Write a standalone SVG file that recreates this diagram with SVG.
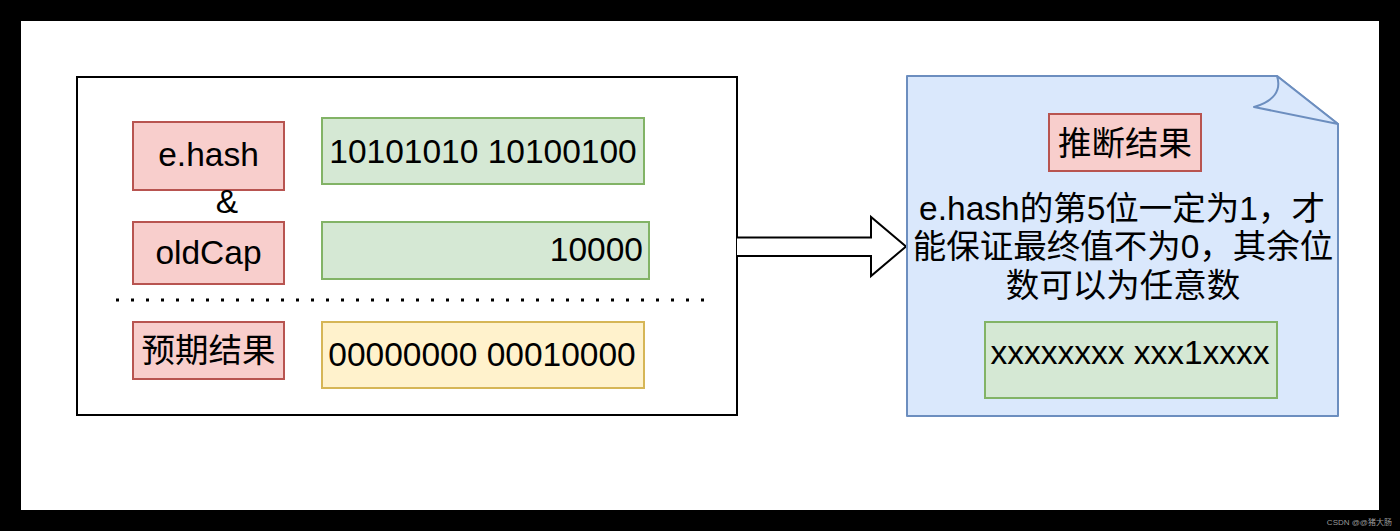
<svg xmlns="http://www.w3.org/2000/svg" width="1400" height="531" viewBox="0 0 1400 531">
  <style>
    text { font-family: "Liberation Sans", "Noto Sans CJK SC", sans-serif; font-size: 33.5px; fill: #000; }
    .pink { fill: #f8cecc; stroke: #b85450; stroke-width: 2; }
    .green { fill: #d5e8d4; stroke: #82b366; stroke-width: 2; }
    .yellow { fill: #fff2cc; stroke: #d6b656; stroke-width: 2; }
    .blue { fill: #dae8fc; stroke: #6c8ebf; stroke-width: 2; stroke-linejoin: round; }
    .c { text-anchor: middle; }
    .r { text-anchor: end; }
  </style>
  <rect x="0" y="0" width="1400" height="531" fill="#000"/>
  <rect x="21" y="21" width="1358" height="489" fill="#fff"/>

  <g id="container">
    <rect x="77" y="77" width="660" height="338" fill="#fff" stroke="#000" stroke-width="2"/>
  </g>

  <g id="ehash">
    <rect class="pink" x="133" y="122" width="151" height="68"/>
    <text class="c" x="208.5" y="166">e.hash</text>
  </g>
  <g id="amp">
    <text class="c" x="227" y="213">&amp;</text>
  </g>
  <g id="oldcap">
    <rect class="pink" x="133" y="222" width="151" height="62"/>
    <text class="c" x="208.5" y="264">oldCap</text>
  </g>
  <g id="expected-label">
    <rect class="pink" x="133" y="322" width="151" height="57"/>
    <text class="c" x="208.5" y="362">预期结果</text>
  </g>

  <g id="hash-bits">
    <rect class="green" x="322" y="118" width="322" height="66"/>
    <text class="c" x="483" y="162.5">10101010 10100100</text>
  </g>
  <g id="cap-bits">
    <rect class="green" x="322" y="222" width="327" height="57"/>
    <text class="r" x="643" y="261">10000</text>
  </g>
  <g id="expected-bits">
    <rect class="yellow" x="322" y="322" width="322" height="66"/>
    <text class="c" x="482" y="366">00000000 00010000</text>
  </g>

  <g id="separator">
    <line x1="116" y1="300" x2="710" y2="300" stroke="#000" stroke-width="3" stroke-dasharray="3 12"/>
  </g>

  <g id="connectors">
    <path d="M737,237.5 L871,237.5 L871,217 L906,246.5 L871,276 L871,256 L737,256" fill="#fff" stroke="#000" stroke-width="2" stroke-linejoin="miter"/>
  </g>

  <g id="note">
    <path class="blue" d="M907,76 L1277,76 L1338,124 L1338,416 L907,416 Z"/>
    <path class="blue" d="M1277,76 Q1284,98 1254,107 L1338,124 Z"/>
    <text class="c" x="1122" y="220">e.hash的第5位一定为1，才</text>
    <text class="c" x="1123" y="258">能保证最终值不为0，其余位</text>
    <text class="c" x="1123" y="297">数可以为任意数</text>
  </g>
  <g id="inference-label">
    <rect class="pink" x="1049" y="114" width="152" height="57"/>
    <text class="c" x="1125" y="155">推断结果</text>
  </g>
  <g id="result-bits">
    <rect class="green" x="985" y="322" width="292" height="76"/>
    <text class="c" x="1130" y="364">xxxxxxxx xxx1xxxx</text>
  </g>

  <text class="r" x="1392" y="525" style="font-size:8px; fill:#9a9a9a;">CSDN @@猪大肠</text>
</svg>
